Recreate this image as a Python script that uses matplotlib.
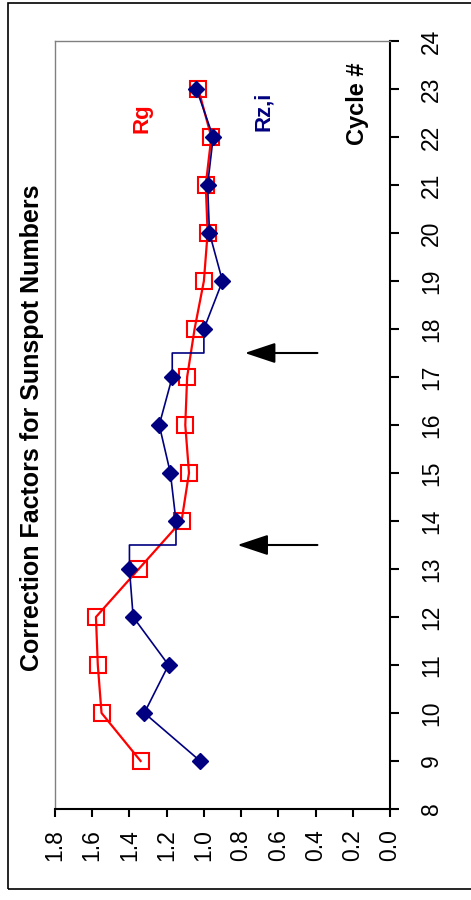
import matplotlib
matplotlib.use("Agg")
import matplotlib.pyplot as plt
from matplotlib.patches import Rectangle

plt.rcParams['font.family'] = ['Liberation Sans', 'DejaVu Sans']

# ---- data ----
cycles = [9, 10, 11, 12, 13, 14, 15, 16, 17, 18, 19, 20, 21, 22, 23]
rg = [1.34, 1.55, 1.57, 1.58, 1.35, 1.12, 1.08, 1.10, 1.09, 1.05, 1.00, 0.98, 0.99, 0.96, 1.03]
rzi = [1.02, 1.32, 1.19, 1.38, 1.40, 1.15, 1.18, 1.24, 1.17, 1.00, 0.90, 0.97, 0.98, 0.95, 1.04]
step_cycles = [13.5, 17.5]          # Rz,i series switches level half-way between cycles
arrow_cycles = [13.5, 17.5]
arrow_tail = 0.39
arrow_tips = [0.82, 0.78]
factor_ticks = [1.8, 1.6, 1.4, 1.2, 1.0, 0.8, 0.6, 0.4, 0.2, 0.0]
cycle_ticks = list(range(8, 25))
title = "Correction Factors for Sunspot Numbers"

# build the Rz,i line path with its steps
path_c, path_v = [], []
for i, (c, v) in enumerate(zip(cycles, rzi)):
    path_c.append(c)
    path_v.append(v)
    for s in step_cycles:
        if c < s and i + 1 < len(cycles) and cycles[i + 1] > s:
            path_c += [s, s]
            path_v += [v, rzi[i + 1]]

W, H = 471, 900
fig = plt.figure(figsize=(W / 100, H / 100), dpi=100)

# outer frame
fig.patches.append(Rectangle((8 / W, (H - 889) / H), 1.2, (889 - 3) / H,
                             transform=fig.transFigure, fill=False,
                             edgecolor='black', linewidth=1.2, zorder=0))

ax = fig.add_axes([55 / W, (H - 809) / H, (390 - 55) / W, (809 - 41) / H])
ax.set_xlim(1.8, 0.0)
ax.set_ylim(8, 24)

ax.plot(rg, cycles, color='#FF0000', lw=1.6, marker='s', ms=12,
        mfc='none', mec='#FF0000', mew=1.5, zorder=3)
ax.plot(path_v, path_c, color='#000080', lw=1.2, zorder=4)
ax.plot(rzi, cycles, ls='none', marker='D', ms=8, color='#000080', zorder=5)

for c, tip in zip(arrow_cycles, arrow_tips):
    ax.annotate('', xy=(tip, c), xytext=(arrow_tail, c),
                arrowprops=dict(arrowstyle='-|>,head_length=1.35,head_width=0.45',
                                mutation_scale=14, color='black', lw=1.5,
                                shrinkA=0, shrinkB=0))

ax.set_xticks(factor_ticks)
ax.set_xticklabels([f"{t:.1f}" for t in factor_ticks], rotation=90, fontsize=16.5)
ax.set_yticks(cycle_ticks)
ax.set_yticklabels([str(t) for t in cycle_ticks], rotation=90, fontsize=16.5,
                   va='center')
ax.yaxis.tick_right()
ax.tick_params(axis='x', direction='out', length=6, width=1.5, pad=8.5)
ax.tick_params(axis='y', direction='out', length=6.5, width=1.5, pad=15)

for side in ['left', 'top']:
    ax.spines[side].set_color('#808080')
    ax.spines[side].set_linewidth(1.0)
for side in ['right', 'bottom']:
    ax.spines[side].set_color('black')
    ax.spines[side].set_linewidth(1.5)

ax.text(1.334, 22.4, "Rg", color='#FF0000', fontsize=16, fontweight='bold',
        rotation=90, ha='center', va='center')
ax.text(0.682, 22.53, "Rz,i", color='#000080', fontsize=16, fontweight='bold',
        rotation=90, ha='center', va='center')
ax.text(0.177, 22.69, "Cycle #", color='black', fontsize=17, fontweight='bold',
        rotation=90, ha='center', va='center')

fig.text(32 / W, 1 - 428 / H, title, fontsize=18, fontweight='bold',
         rotation=90, ha='center', va='center')

fig.savefig("out.png", dpi=100)
